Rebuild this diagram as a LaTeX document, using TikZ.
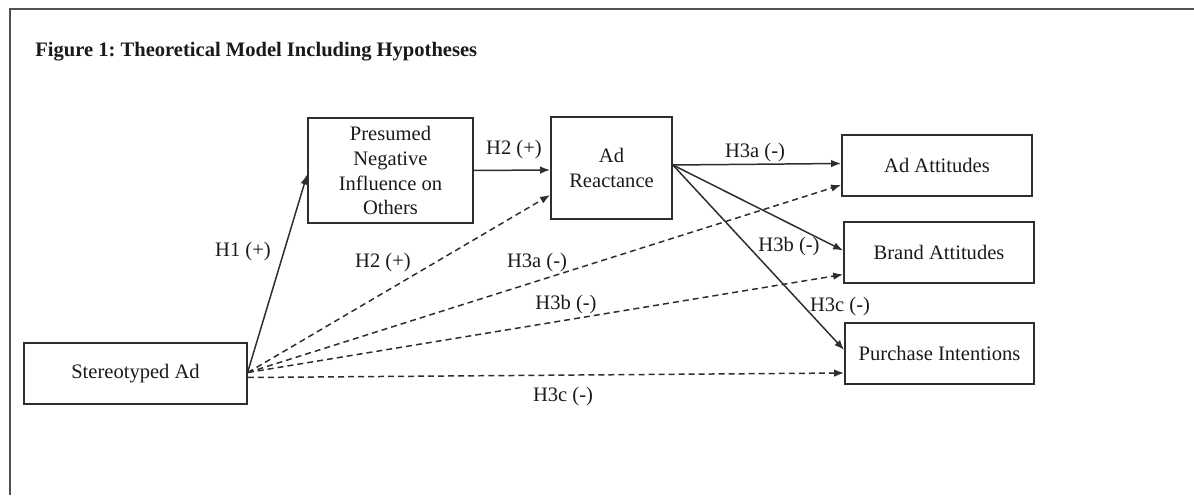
\documentclass[tikz,border=0pt]{standalone}
\usepackage{fontspec}
\setmainfont{Liberation Serif}
\usetikzlibrary{arrows.meta, positioning, calc}
\definecolor{lineGray}{HTML}{2E2E2E}
\definecolor{frameGray}{HTML}{505050}
\definecolor{textBlack}{HTML}{1A1A1A}
\frenchspacing

\begin{document}
\begin{tikzpicture}[
    font=\fontsize{11.7}{14.2}\selectfont, text=textBlack,
    varbox/.style={draw=lineGray, line width=1pt, align=center, inner sep=0pt},
    mainpath/.style={lineGray, line width=0.85pt, -{Latex[length=2mm, width=1.5mm]}},
    direct/.style={mainpath, dash pattern=on 3.4pt off 2.3pt},
    hyp/.style={inner sep=0pt}
  ]
    \useasboundingbox (0,0) rectangle (23.88,9.9);
    % frame (top and left edge only)
    \draw[frameGray, line width=1.1pt] (0.2,0) -- (0.2,9.72) -- (23.88,9.72);
    \node[anchor=west, inner sep=0pt, font=\fontsize{11.7}{14.2}\selectfont\bfseries]
      (title) at (0.70,8.86) {Figure 1: Theoretical Model Including Hypotheses};

    % variables
    \node[varbox, minimum width=4.46cm, minimum height=1.22cm] (stereoAd) at (2.71,2.43) {Stereotyped Ad};
    \node[varbox, minimum width=3.30cm, minimum height=2.10cm] (presumedInf) at (7.81,6.49)
      {Presumed\\Negative\\Influence on\\Others};
    \node[varbox, minimum width=2.42cm, minimum height=2.04cm] (adReact) at (12.23,6.54) {Ad\\Reactance};
    \node[varbox, minimum width=3.80cm, minimum height=1.22cm] (adAtt) at (18.74,6.59) {Ad Attitudes};
    \node[varbox, minimum width=3.80cm, minimum height=1.22cm] (brandAtt) at (18.78,4.85) {Brand Attitudes};
    \node[varbox, minimum width=3.78cm, minimum height=1.22cm] (purchInt) at (18.79,2.83) {Purchase Intentions};

    \coordinate (reactOut) at ([yshift=0.06cm]adReact.east);

    % mediated paths (solid)
    \draw[mainpath] ([yshift=0.04cm]stereoAd.east) -- ([yshift=-0.08cm]presumedInf.west);
    \draw[mainpath] (presumedInf.east) -- ([yshift=-0.04cm]adReact.west);
    \draw[mainpath] (reactOut) -- ([yshift=0.04cm]adAtt.west);
    \draw[mainpath] (reactOut) -- ([yshift=0.04cm]brandAtt.west);
    \draw[mainpath] (reactOut) -- ([yshift=0.07cm]purchInt.west);

    % direct paths (dashed)
    \draw[direct] ([yshift=0.02cm]stereoAd.east) -- ([yshift=-0.54cm]adReact.west);
    \draw[direct] ([yshift=0.02cm]stereoAd.east) -- ([yshift=-0.39cm]adAtt.west);
    \draw[direct] ([yshift=0.02cm]stereoAd.east) -- ([yshift=-0.44cm]brandAtt.west);
    \draw[direct] ([yshift=-0.08cm]stereoAd.east) -- ([yshift=-0.39cm]purchInt.west);

    % hypothesis labels
    \node[hyp] (lblHone) at (4.86,4.86) {H1 (+)};
    \node[hyp] (lblHtwo) at (10.28,6.90) {H2 (+)};
    \node[hyp] (lblHtwoD) at (7.66,4.64) {H2 (+)};
    \node[hyp] (lblHthreeaD) at (10.74,4.64) {H3a (-)};
    \node[hyp] (lblHthreebD) at (11.32,3.80) {H3b (-)};
    \node[hyp] (lblHthreecD) at (11.26,1.96) {H3c (-)};
    \node[hyp] (lblHthreea) at (15.10,6.84) {H3a (-)};
    \node[hyp] (lblHthreeb) at (15.78,4.96) {H3b (-)};
    \node[hyp] (lblHthreec) at (16.80,3.76) {H3c (-)};
\end{tikzpicture}
\end{document}
